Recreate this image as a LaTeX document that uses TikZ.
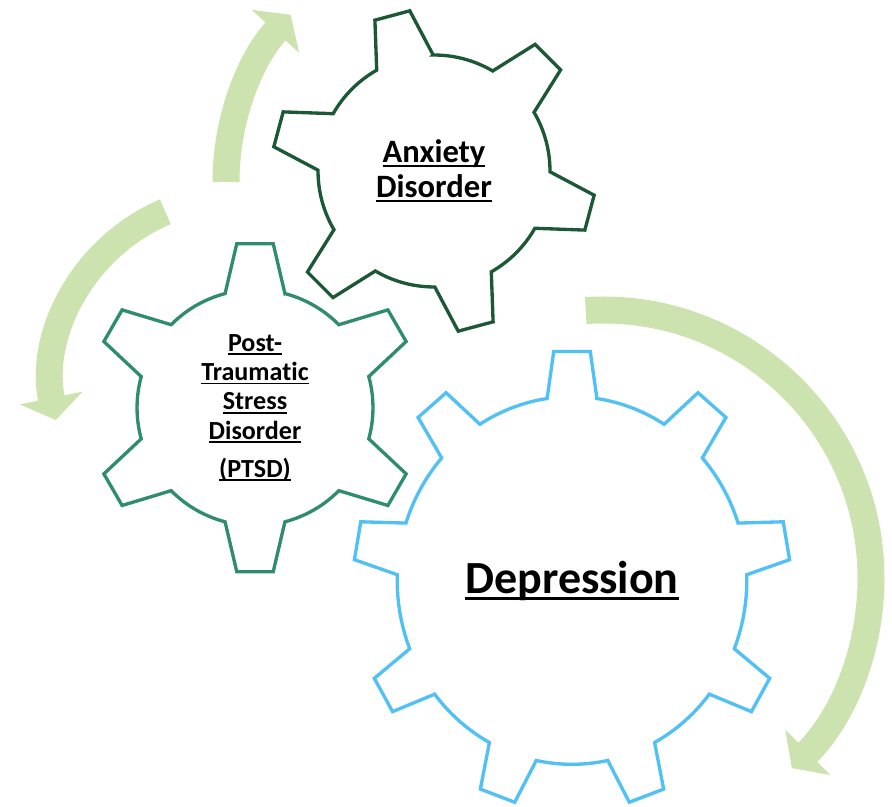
\documentclass[tikz,border=0pt]{standalone}
\usepackage{fontspec}
\setmainfont{Carlito}[Ligatures=NoCommon]
\usetikzlibrary{arrows.meta}
\definecolor{arrowgreen}{RGB}{204,227,176}
\definecolor{anxietygreen}{RGB}{28,87,54}
\definecolor{ptsdteal}{RGB}{47,140,110}
\definecolor{depblue}{RGB}{80,192,245}
\newsavebox{\ulbox}
\newcommand{\ulword}[1]{\sbox{\ulbox}{#1}\rlap{\usebox{\ulbox}}\rule[-0.15em]{\wd\ulbox}{0.07em}}
\tikzset{
	gear rim/.style={
		line width=1.9pt,
		line join=miter
	},
	cycle arrow/.style={
		draw=arrowgreen,
		line width=0.54cm,
		-{Triangle[width=1.26cm,length=0.45cm]}
	},
	gear label/.style={
		align=center,
		inner sep=0pt
	},
	% teeth, first tooth angle, root radius, tip half angle, root half angle
	pics/gear/.style n args={5}{
		code={
			\draw[pic actions] ({#2-#5}:#3)
				foreach \k in {1,...,#1}{
					-- ({#2+(\k-1)*360/#1-#4}:1)
					-- ({#2+(\k-1)*360/#1+#4}:1)
					-- ({#2+(\k-1)*360/#1+#5}:#3)
					arc[start angle={#2+(\k-1)*360/#1+#5}, end angle={#2+\k*360/#1-#5}, radius=#3]
				} -- cycle;
		}
	},
}
\begin{document}
\begin{tikzpicture}[x=0.02cm,y=0.02cm]
	\useasboundingbox (0,0) rectangle (892,807);
	\coordinate (anxiety) at (434,636);
	\coordinate (ptsd) at (255,399.3);
	\coordinate (depression) at (572,226.5);
	% arc centres of the arrows
	\coordinate (arcA) at (475,625);
	\coordinate (arcB) at (238,424);
	\coordinate (arcC) at (603,229);
	\draw[cycle arrow] ([shift={(180:249)}]arcA) arc[start angle=180, end angle=137.8, radius=249];
	\draw[cycle arrow] ([shift={(113:186)}]arcB) arc[start angle=113, end angle=191.5, radius=186];
	\draw[cycle arrow] ([shift={(93.7:268)}]arcC) arc[start angle=93.7, end angle=-45.2, radius=268];
	\pic[draw=anxietygreen, gear rim, scale=162] at (anxiety) {gear={6}{105}{0.716}{6.4}{14.6}};
	\pic[draw=ptsdteal, gear rim, scale=165] at (ptsd) {gear={6}{90}{0.715}{6.35}{14.7}};
	\pic[draw=depblue, gear rim, xscale=218.5, yscale=229.8] at (depression) {gear={9}{90}{0.8}{4.8}{8.2}};
	\node[gear label, font=\fontsize{18.55}{19.9}\selectfont\bfseries] (anxietytext) at (anxiety) {\ulword{Anxiety}\\\ulword{Disorder}};
	\node[gear label, font=\fontsize{14.85}{16.7}\selectfont\bfseries] (ptsdtext) at (ptsd) {\ulword{Post-}\\\ulword{Traumatic}\\\ulword{Stress}\\\ulword{Disorder}\\[5pt]\ulword{(PTSD)}};
	\node[gear label, font=\fontsize{26.2}{30}\selectfont\bfseries] (depressiontext) at (depression) {\ulword{Depression}};
\end{tikzpicture}
\end{document}
